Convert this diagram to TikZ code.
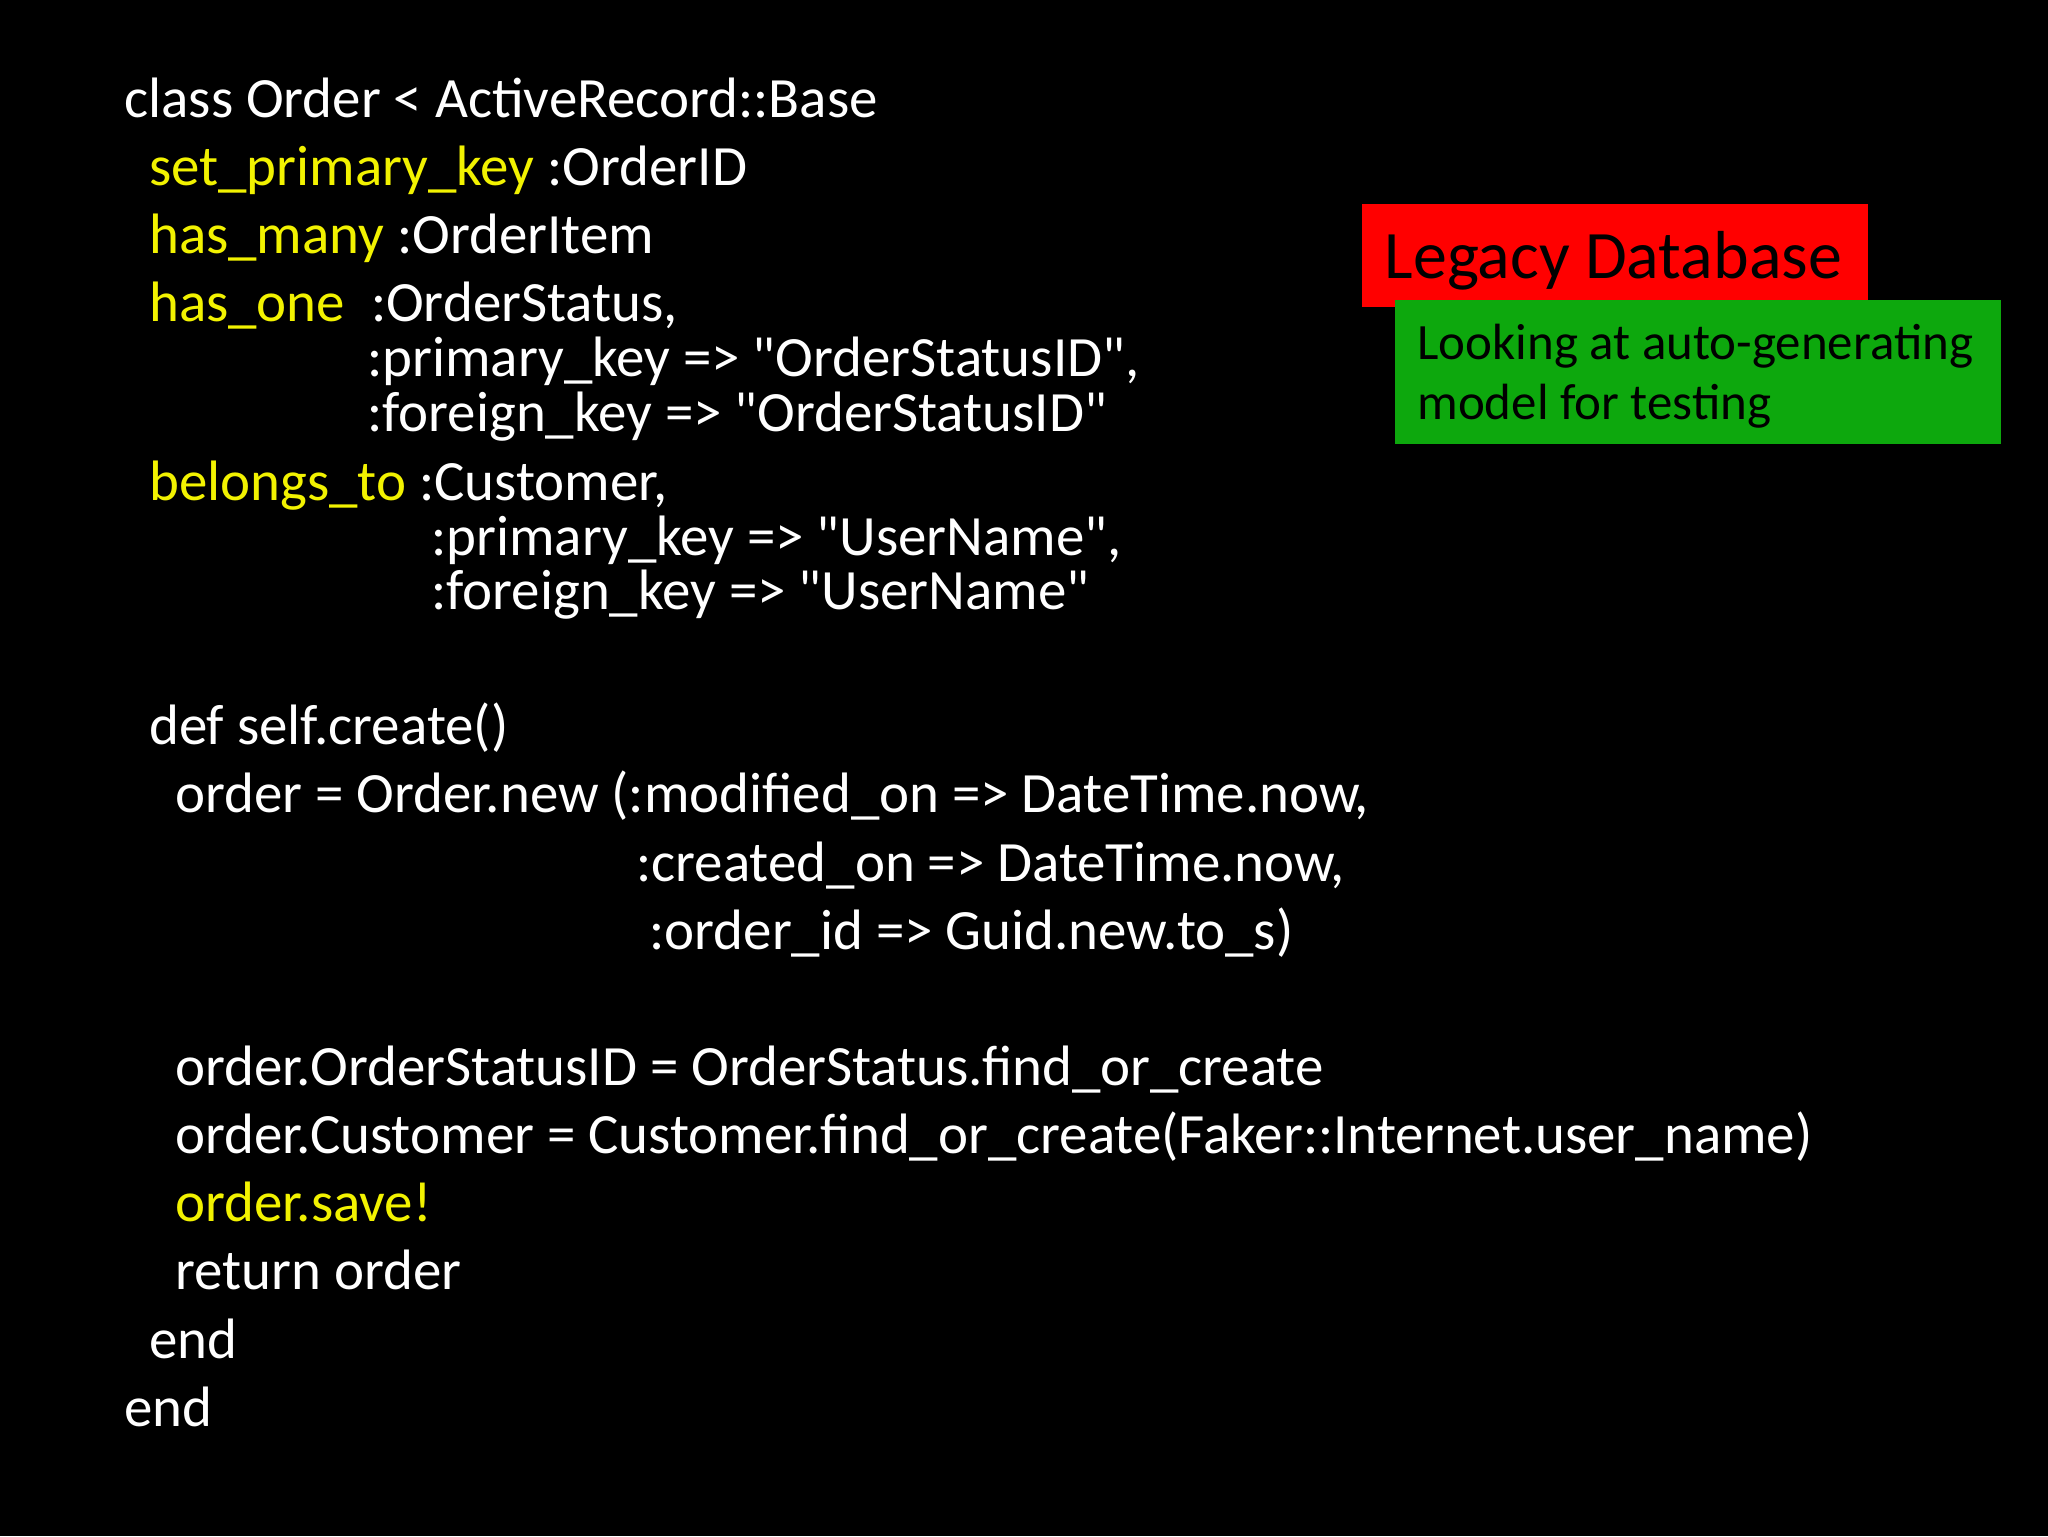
\documentclass[tikz,border=0pt]{standalone}
\usepackage{fontspec}
\setmainfont{Carlito}[Ligatures=TeXOff]
\definecolor{yl}{HTML}{F2F200}
\definecolor{gr}{HTML}{0DA80D}
\newcommand{\q}{"}
\begin{document}
\begin{tikzpicture}[x=1pt,y=-1pt,
  code/.style={anchor=base west,inner sep=0,text=white,font=\fontsize{43.6}{50}\selectfont},
  box/.style={anchor=base west,inner sep=0}]
\useasboundingbox[fill=black] (0,0) rectangle (1568,1176);
\node[code] (l1) at (95,90) {class Order < ActiveRecord::Base};
\node[code] (l2) at (114,142) {\textcolor{yl}{set\_primary\_key} :OrderID};
\node[code] (l3) at (114,194) {\textcolor{yl}{has\_many} :OrderItem};
\node[code] (l4) at (114,246) {\textcolor{yl}{has\_one}\ \ :OrderStatus,};
\node[code] (l5) at (281,288) {:primary\_key => \q OrderStatusID\q ,};
\node[code] (l6) at (281,330) {:foreign\_key => \q OrderStatusID\q};
\node[code] (l7) at (114,383) {\textcolor{yl}{belongs\_to} :Customer,};
\node[code] (l8) at (330,425) {:primary\_key => \q UserName\q ,};
\node[code] (l9) at (330,467) {:foreign\_key => \q UserName\q};
\node[code] (l10) at (114,570) {def self.create()};
\node[code] (l11) at (134,622) {order = Order.new (:modified\_on => DateTime.now,};
\node[code] (l12) at (487,675) {:created\_on => DateTime.now,};
\node[code] (l13) at (497,727) {:order\_id => Guid.new.to\_s)};
\node[code] (l14) at (134,831) {order.OrderStatusID = OrderStatus.find\_or\_create};
\node[code] (l15) at (134,883) {order.Customer = Customer.find\_or\_create(Faker::Internet.user\_name)};
\node[code,text=yl] (l16) at (134,935) {order.save!};
\node[code] (l17) at (134,987) {return order};
\node[code] (l18) at (114,1040) {end};
\node[code] (l19) at (95,1092) {end};
\fill[red] (1043,156) rectangle (1430,235);
\node[box,font=\fontsize{52}{60}\selectfont,text=black] (leg) at (1060,213) {Legacy Database};
\fill[gr] (1068,230) rectangle (1532,340);
\node[box,font=\fontsize{39}{47}\selectfont,text=black] (g1) at (1085,275) {Looking at auto-generating};
\node[box,font=\fontsize{39}{47}\selectfont,text=black] (g2) at (1085,321) {model for testing};
\end{tikzpicture}
\end{document}
